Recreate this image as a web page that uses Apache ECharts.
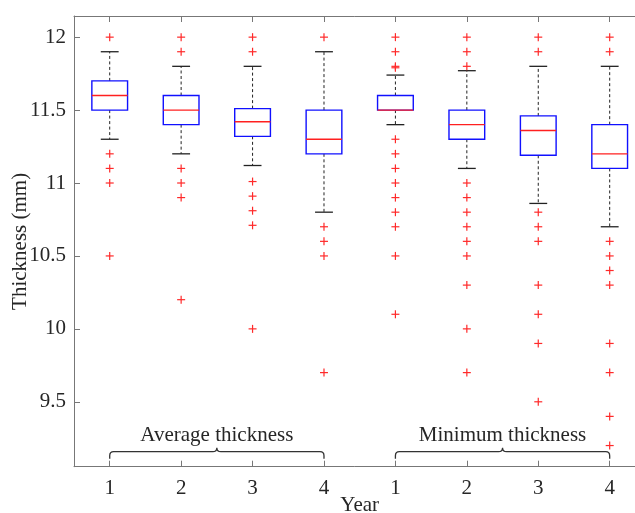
<!DOCTYPE html>
<html><head><meta charset="utf-8">
<script src="https://cdn.jsdelivr.net/npm/echarts@6/dist/echarts.min.js"></script>
<style>html,body{margin:0;padding:0;background:#fff}#c{width:635px;height:513px}</style>
</head><body><div id="c"></div>
<script>
// ---- data ----
const tickLabels = ['1', '2', '3', '4', '1', '2', '3', '4'];
const groupStart = [0, 4];
const groupEnd = [3, 7];
const groupNames = ['Average thickness', 'Minimum thickness'];
const lowerWhisker = [11.3, 11.2, 11.12, 10.8, 11.4, 11.1, 10.86, 10.7];
const q1 = [11.5, 11.4, 11.32, 11.2, 11.5, 11.3, 11.19, 11.1];
const median = [11.6, 11.5, 11.42, 11.3, 11.5, 11.4, 11.36, 11.2];
const q3 = [11.7, 11.6, 11.51, 11.5, 11.6, 11.5, 11.46, 11.4];
const upperWhisker = [11.9, 11.8, 11.8, 11.9, 11.74, 11.77, 11.8, 11.8];
const outliers1 = [12.0, 11.2, 11.1, 11.0, 10.5];
const outliers2 = [12.0, 11.9, 11.1, 11.0, 10.9, 10.2];
const outliers3 = [12.0, 11.9, 11.01, 10.91, 10.81, 10.71, 10.0];
const outliers4 = [12.0, 10.7, 10.6, 10.5, 9.7];
const outliers5 = [12.0, 11.9, 11.8, 11.79, 11.3, 11.2, 11.1, 11.0, 10.9, 10.8, 10.7, 10.5, 10.1];
const outliers6 = [12.0, 11.9, 11.8, 11.0, 10.9, 10.8, 10.7, 10.6, 10.5, 10.3, 10.0, 9.7];
const outliers7 = [12.0, 11.9, 10.8, 10.7, 10.6, 10.3, 10.1, 9.9, 9.5];
const outliers8 = [12.0, 11.9, 10.6, 10.5, 10.4, 10.3, 9.9, 9.7, 9.4, 9.2];
const yMin = 9.055, yMax = 12.145;

// ---- build ----
const allOutliers = [outliers1, outliers2, outliers3, outliers4, outliers5, outliers6, outliers7, outliers8];
const boxData = tickLabels.map((_, i) => [i, lowerWhisker[i], q1[i], median[i], q3[i], upperWhisker[i]]);
const outData = [];
allOutliers.forEach((arr, i) => arr.forEach(v => outData.push([i, v])));
const groupData = groupStart.map((s, k) => [s, groupEnd[k]]);

const FONT = '"Liberation Serif", "Times New Roman", serif';
const TXT = '#262626';
const AX = '#777777';

function renderBox(params, api) {
  const i = api.value(0);
  const band = api.size([1, 0])[0];
  const bw = band * 0.5, cw = band * 0.25;
  const x = api.coord([i, api.value(3)])[0];
  const yLo = api.coord([i, api.value(1)])[1];
  const yQ1 = api.coord([i, api.value(2)])[1];
  const yMed = api.coord([i, api.value(3)])[1];
  const yQ3 = api.coord([i, api.value(4)])[1];
  const yHi = api.coord([i, api.value(5)])[1];
  const dash = {stroke: '#222', lineWidth: 1, lineDash: [3, 2.5], fill: null};
  const solid = {stroke: '#222', lineWidth: 1.3, fill: null};
  return {type: 'group', children: [
    {type: 'line', shape: {x1: x, y1: yQ3, x2: x, y2: yHi}, style: dash},
    {type: 'line', shape: {x1: x, y1: yQ1, x2: x, y2: yLo}, style: dash},
    {type: 'line', shape: {x1: x - cw / 2, y1: yHi, x2: x + cw / 2, y2: yHi}, style: solid},
    {type: 'line', shape: {x1: x - cw / 2, y1: yLo, x2: x + cw / 2, y2: yLo}, style: solid},
    {type: 'rect', shape: {x: x - bw / 2, y: yQ3, width: bw, height: yQ1 - yQ3},
      style: {stroke: '#1010ff', lineWidth: 1.4, fill: 'transparent'}},
    {type: 'line', shape: {x1: x - bw / 2, y1: yMed, x2: x + bw / 2, y2: yMed},
      style: {stroke: '#ff2020', lineWidth: 1.3}}
  ]};
}

function renderPlus(params, api) {
  const p = api.coord([api.value(0), api.value(1)]);
  const a = 4;
  const st = {stroke: '#ff2a2a', lineWidth: 1.2};
  return {type: 'group', children: [
    {type: 'line', shape: {x1: p[0] - a, y1: p[1], x2: p[0] + a, y2: p[1]}, style: st},
    {type: 'line', shape: {x1: p[0], y1: p[1] - a, x2: p[0], y2: p[1] + a}, style: st}
  ]};
}

function renderBrace(params, api) {
  const cs = params.coordSys;
  const bottom = cs.y + cs.height;
  const x1 = api.coord([api.value(0), yMin])[0];
  const x2 = api.coord([api.value(1), yMin])[0];
  const xm = (x1 + x2) / 2;
  const yb = bottom - 15;
  const r = 4;
  const d = 'M' + x1 + ',' + (bottom - 8) +
    ' L' + x1 + ',' + (yb + r) +
    ' Q' + x1 + ',' + yb + ' ' + (x1 + r) + ',' + yb +
    ' L' + (xm - r) + ',' + yb +
    ' Q' + xm + ',' + yb + ' ' + xm + ',' + (yb - r) +
    ' Q' + xm + ',' + yb + ' ' + (xm + r) + ',' + yb +
    ' L' + (x2 - r) + ',' + yb +
    ' Q' + x2 + ',' + yb + ' ' + x2 + ',' + (yb + r) +
    ' L' + x2 + ',' + (bottom - 8);
  return {type: 'group', children: [
    {type: 'path', shape: {pathData: d}, style: {stroke: '#333', lineWidth: 1.3, fill: null}},
    {type: 'text', x: xm, y: bottom - 31,
      style: {text: groupNames[params.dataIndex], fontFamily: FONT, fontSize: 21, fill: TXT,
        align: 'center', verticalAlign: 'middle'}}
  ]};
}

const chart = echarts.init(document.getElementById('c'), null, {renderer: 'canvas'});
chart.setOption({
  animation: false,
  backgroundColor: '#fff',
  textStyle: {fontFamily: FONT},
  grid: {left: 74, top: 16, width: 571.4, height: 450.7, containLabel: false, outerBoundsMode: 'none'},
  xAxis: [{
    type: 'category', data: tickLabels, boundaryGap: true, position: 'bottom',
    name: 'Year', nameLocation: 'middle', nameGap: 28, nameMoveOverlap: false,
    nameTextStyle: {fontFamily: FONT, fontSize: 21, color: TXT},
    axisLine: {show: true, lineStyle: {color: AX, width: 1}},
    axisTick: {show: true, inside: true, length: 6, alignWithLabel: true, lineStyle: {color: AX}},
    axisLabel: {interval: 0, margin: 11, fontFamily: FONT, fontSize: 21, color: TXT},
    splitLine: {show: false}
  }, {
    type: 'category', data: tickLabels, boundaryGap: true, position: 'top',
    axisLine: {show: true, lineStyle: {color: AX, width: 1}},
    axisTick: {show: true, inside: true, length: 6, alignWithLabel: true, lineStyle: {color: AX}},
    axisLabel: {show: false}, splitLine: {show: false}
  }],
  yAxis: {
    type: 'value', min: yMin, max: yMax, minInterval: 0.5, maxInterval: 0.5, splitNumber: 6,
    name: 'Thickness (mm)', nameLocation: 'middle', nameGap: 43, nameRotate: 90, nameMoveOverlap: false,
    nameTextStyle: {fontFamily: FONT, fontSize: 21, color: TXT},
    axisLine: {show: true, lineStyle: {color: AX, width: 1}},
    axisTick: {show: true, inside: true, length: 6, lineStyle: {color: AX}},
    axisLabel: {margin: 8, fontFamily: FONT, fontSize: 21, color: TXT, showMinLabel: false, showMaxLabel: false},
    splitLine: {show: false}
  },
  series: [
    {type: 'custom', renderItem: renderBox, data: boxData, xAxisIndex: 0, silent: true, clip: false,
      encode: {x: 0, y: [1, 2, 3, 4, 5]}},
    {type: 'custom', renderItem: renderPlus, data: outData, xAxisIndex: 0, silent: true, clip: false,
      encode: {x: 0, y: 1}},
    {type: 'custom', renderItem: renderBrace, data: groupData, xAxisIndex: 0, silent: true, clip: false,
      encode: {x: [0, 1]}}
  ]
});
</script></body></html>
